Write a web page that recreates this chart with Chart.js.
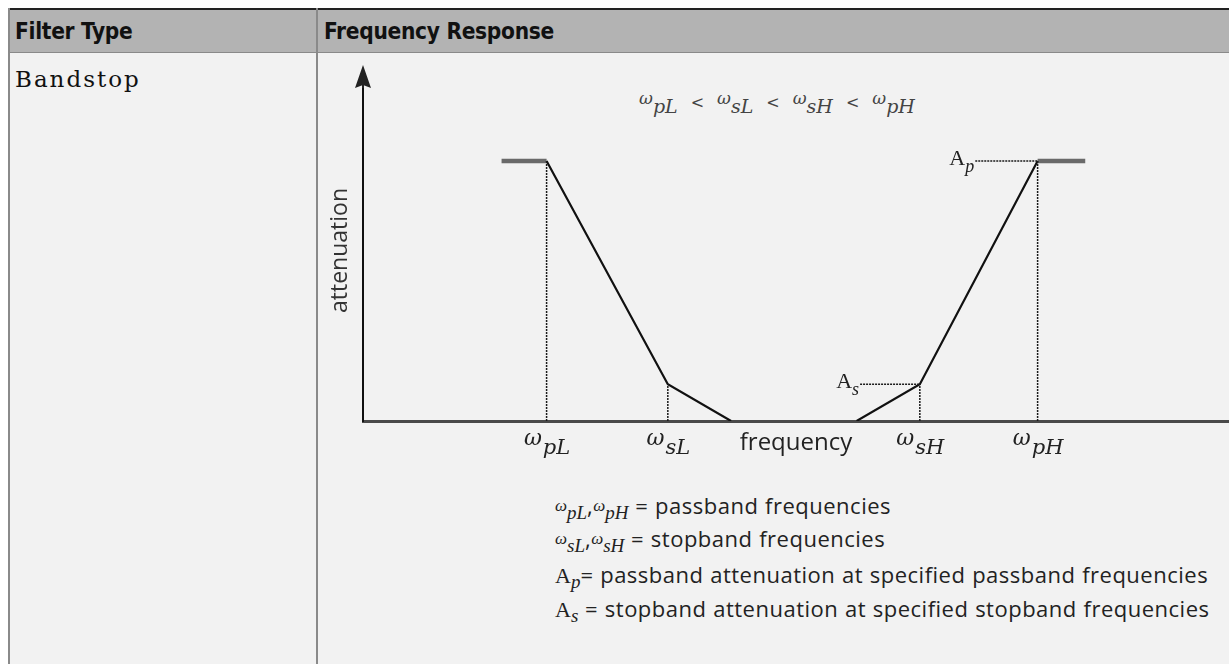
<!DOCTYPE html>
<html>
<head>
<meta charset="utf-8">
<script src="https://cdn.jsdelivr.net/npm/chart.js@4.4.0/dist/chart.umd.min.js"></script>
<style>
  body { margin: 0; width: 1229px; height: 664px; overflow: hidden; position: relative; background: #fff; }
  .abs { position: absolute; }
  .head { left: 8px; top: 8px; width: 1221px; height: 44px; background: #b3b3b3; border-top: 2px solid #222; box-sizing: border-box; }
  .body { left: 8px; top: 53px; width: 1221px; height: 611px; background: #f2f2f2; }
  .vline { top: 8px; width: 2px; height: 656px; background: #8a8a8a; }
  .hline { left: 8px; top: 52px; width: 1221px; height: 1px; background: #8a8a8a; }
  .th { top: 20px; font: bold 22.5px "DejaVu Sans Condensed", "DejaVu Sans"; color: #111; letter-spacing: -0.3px; line-height: 1; }
  .td { font: 23px "DejaVu Serif"; color: #111; letter-spacing: 2px; line-height: 1; }
  .note { left: 555px; font: 22px "Open Sans"; color: #222; line-height: 30px; white-space: nowrap; letter-spacing: 0.5px; word-spacing: 0.5px; }
  .w { font: italic 17px "Liberation Serif"; position: relative; top: -3px; letter-spacing: 0; }
  .s { font: italic 19px "Liberation Serif"; position: relative; top: 5px; letter-spacing: 0; }
  .A { font: 22px "Liberation Serif"; letter-spacing: 0; }
  .title { left: 639px; top: 88px; font: 16px "DejaVu Serif"; color: #444; line-height: 30px; white-space: nowrap; }
  .title .w { font: italic 17px "DejaVu Serif"; top: -4px; }
  .title .s { font: italic 19px "DejaVu Serif"; top: 5px; }
  .title .lt { margin: 0 13px; }
  canvas { position: absolute; left: 0; top: 0; pointer-events: none; }
</style>
</head>
<body>
<div class="abs head"></div>
<div class="abs body"></div>
<div class="abs hline"></div>
<div class="abs vline" style="left:8px"></div>
<div class="abs vline" style="left:316px"></div>
<div class="abs th" style="left:15px">Filter Type</div>
<div class="abs th" style="left:324px">Frequency Response</div>
<div class="abs td" style="left:15px;top:68px">Bandstop</div>

<div class="abs title"><i class="w">ω</i><i class="s">pL</i><span class="lt">&lt;</span><i class="w">ω</i><i class="s">sL</i><span class="lt">&lt;</span><i class="w">ω</i><i class="s">sH</i><span class="lt">&lt;</span><i class="w">ω</i><i class="s">pH</i></div>

<div class="abs note" style="top:490px"><i class="w">ω</i><i class="s">pL</i>,<i class="w">ω</i><i class="s">pH</i> = passband frequencies</div>
<div class="abs note" style="top:523px"><i class="w">ω</i><i class="s">sL</i>,<i class="w">ω</i><i class="s">sH</i> = stopband frequencies</div>
<div class="abs note" style="top:559px"><span class="A">A</span><i class="s">p</i>= passband attenuation at specified passband frequencies</div>
<div class="abs note" style="top:593px"><span class="A">A</span><i class="s">s</i> = stopband attenuation at specified stopband frequencies</div>

<canvas id="myChart" width="1229" height="664"></canvas>

<script>
// schematic values (arbitrary units)
const Ap = 60;          // passband attenuation
const As = 8.5;         // stopband attenuation
const tickValues = [21.2, 35.2, 64.3, 77.9];   // wpL, wsL, wsH, wpH
const tickSubs = ['pL', 'sL', 'sH', 'pH'];

const responseX = [21.2, 35.2, 42.5, 50, 57.0, 64.3, 77.9];
const responseY = [Ap, As, 0, null, 0, As, Ap];

const passbandX = [16.0, 21.2, 50, 77.9, 83.4];
const passbandY = [Ap, Ap, null, Ap, Ap];

const asGuideStart = 57.4;
const apGuideStart = 70.7;

function pts(xs, ys) {
  return xs.map((x, i) => ({ x: x, y: ys[i] }));
}

// dotted helper lines: drops from each marked frequency, plus the two level marks
const guides = [];
const levels = [Ap, As, As, Ap];
tickValues.forEach((t, i) => {
  guides.push({ x: t, y: 0 }, { x: t, y: levels[i] }, { x: t, y: null });
});
guides.push({ x: asGuideStart, y: As }, { x: tickValues[2], y: As }, { x: 60, y: null });
guides.push({ x: apGuideStart, y: Ap }, { x: tickValues[3], y: Ap });

function drawSym(ctx, base, sub, x, y, o) {
  ctx.font = o.baseFont;
  const w1 = ctx.measureText(base).width;
  ctx.font = o.subFont;
  const w2 = ctx.measureText(sub).width;
  let left = x;
  if (o.align === 'center') left = x - (w1 + w2) / 2;
  if (o.align === 'right') left = x - (w1 + w2);
  ctx.font = o.baseFont;
  ctx.fillText(base, left, y);
  ctx.font = o.subFont;
  ctx.fillText(sub, left + w1 + (o.gap || 0), y + o.drop);
}

const labels = {
  id: 'labels',
  afterDraw(chart) {
    const ctx = chart.ctx;
    const xs = chart.scales.x, ys = chart.scales.y;
    ctx.save();
    ctx.fillStyle = '#222';
    ctx.textBaseline = 'alphabetic';
    ctx.textAlign = 'left';

    // arrow head on attenuation axis
    const ax = ys.right;
    ctx.beginPath();
    ctx.moveTo(ax, 65);
    ctx.lineTo(ax - 8, 88);
    ctx.lineTo(ax, 85);
    ctx.lineTo(ax + 8, 88);
    ctx.closePath();
    ctx.fill();
    ctx.fillRect(ax - 1, 80, 2, 8);

    tickValues.forEach((t, i) => {
      drawSym(ctx, 'ω', tickSubs[i], xs.getPixelForValue(t), 445, {
        baseFont: 'italic 22px "DejaVu Serif"',
        subFont: 'italic 21px "DejaVu Serif"',
        drop: 9, gap: 1, align: 'center'
      });
    });

    drawSym(ctx, 'A', 'p', xs.getPixelForValue(apGuideStart) - 1, ys.getPixelForValue(Ap) + 4, {
      baseFont: '22px "Liberation Serif"', subFont: 'italic 18px "Liberation Serif"', drop: 7, align: 'right'
    });
    drawSym(ctx, 'A', 's', xs.getPixelForValue(asGuideStart) - 1, ys.getPixelForValue(As) + 4, {
      baseFont: '22px "Liberation Serif"', subFont: 'italic 18px "Liberation Serif"', drop: 7, align: 'right'
    });
    ctx.restore();
  }
};

const ctx = document.getElementById('myChart');

new Chart(ctx, {
  type: 'line',
  data: {
    datasets: [{
      data: guides,
      borderColor: '#1a1a1a',
      borderWidth: 1.5,
      borderDash: [2, 1],
      pointRadius: 0,
      spanGaps: false
    }, {
      data: pts(responseX, responseY),
      borderColor: '#111',
      borderWidth: 2.2,
      pointRadius: 0,
      spanGaps: false
    }, {
      data: pts(passbandX, passbandY),
      borderColor: '#6a6a6a',
      borderWidth: 4.5,
      pointRadius: 0,
      spanGaps: false
    }]
  },
  options: {
    responsive: false,
    animation: false,
    devicePixelRatio: 1,
    layout: { padding: { left: 327, top: 80, right: 0, bottom: 203 } },
    plugins: { legend: { display: false }, tooltip: { enabled: false } },
    scales: {
      x: {
        type: 'linear', min: 0, max: 100,
        grid: { display: false },
        ticks: { display: false },
        border: { color: '#4a4a4a', width: 3 },
        title: { display: true, text: 'frequency', color: '#222', font: { family: 'Open Sans', size: 24 }, padding: { top: 0, bottom: 3 } },
        afterFit(s) { s.height = 40; }
      },
      y: {
        min: 0, max: 78.7,
        grid: { display: false },
        ticks: { display: false },
        border: { color: '#111', width: 2 },
        title: { display: true, text: 'attenuation', color: '#333', font: { family: 'Open Sans', size: 23 }, padding: 0 },
        afterFit(s) { s.width = 36; }
      }
    }
  },
  plugins: [labels]
});
</script>
</body>
</html>
